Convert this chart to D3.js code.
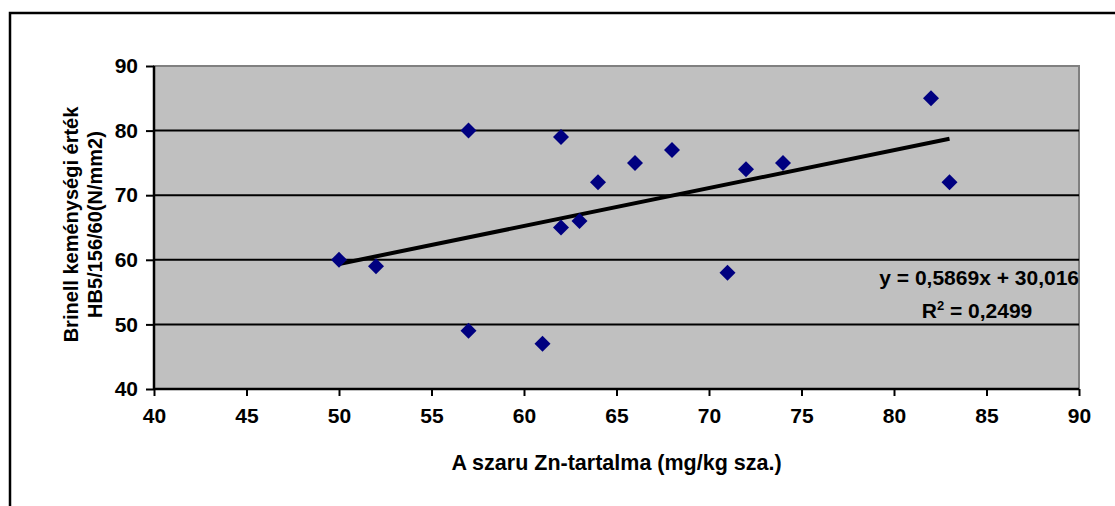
<!DOCTYPE html>
<html>
<head>
  <meta charset="utf-8" />
  <title>Zn-tartalom vs Brinell keménység</title>
  <script src="https://cdn.jsdelivr.net/npm/d3@7"></script>
  <style>
    body { margin: 0; background: #fff; }
    svg text { font-family: "Liberation Sans", Arial, sans-serif; font-weight: bold; fill: #000; }
  </style>
</head>
<body>
  <div id="chart"></div>
  <script>
    // data
    var znValues = [50, 52, 57, 57, 61, 62, 62, 63, 64, 66, 68, 71, 72, 74, 82, 83];
    var hbValues = [60, 59, 80, 49, 47, 79, 65, 66, 72, 75, 77, 58, 74, 75, 85, 72];
    var xTicks = [40, 45, 50, 55, 60, 65, 70, 75, 80, 85, 90];
    var yTicks = [40, 50, 60, 70, 80, 90];
    var trendSlope = 0.5869, trendIntercept = 30.016;
    var trendRange = [50, 83];

    var width = 1115, height = 506;
    var plotLeft = 154, plotRight = 1079, plotTop = 66, plotBottom = 389;
    var fontSize = 21;

    var svg = d3.select("#chart")
            .append("svg")
            .attr("width", width)
            .attr("height", height);

    // outer chart frame (cut off on the right and bottom)
    svg.append("path")
      .attr("d", "M10," + (height + 5) + "V13H" + (width + 5))
      .attr("fill", "none")
      .attr("stroke", "#000")
      .attr("stroke-width", 2.5);

    var x = d3.scaleLinear().domain([40, 90]).range([plotLeft, plotRight]);
    var y = d3.scaleLinear().domain([40, 90]).range([plotBottom, plotTop]);

    // plot area
    svg.append("rect")
      .attr("x", plotLeft).attr("y", plotTop)
      .attr("width", plotRight - plotLeft).attr("height", plotBottom - plotTop)
      .attr("fill", "#c0c0c0")
      .attr("stroke", "#808080")
      .attr("stroke-width", 2);

    // gridlines
    svg.append("g").selectAll("line")
      .data(yTicks.filter(function(d) { return d > 40 && d < 90; }))
      .enter().append("line")
      .attr("x1", plotLeft).attr("x2", plotRight)
      .attr("y1", function(d) { return y(d); })
      .attr("y2", function(d) { return y(d); })
      .attr("stroke", "#000")
      .attr("stroke-width", 2);

    // axes
    var xAxis = svg.append("g")
      .attr("transform", "translate(0," + plotBottom + ")")
      .call(d3.axisBottom(x).tickValues(xTicks).tickSize(7).tickPadding(12));
    var yAxis = svg.append("g")
      .attr("transform", "translate(" + plotLeft + ",0)")
      .call(d3.axisLeft(y).tickValues(yTicks).tickSize(8).tickPadding(8));

    [xAxis, yAxis].forEach(function(g) {
      g.select(".domain").attr("stroke", "#000").attr("stroke-width", 2.5);
      g.selectAll(".tick line").attr("stroke", "#000").attr("stroke-width", 2);
      g.selectAll(".tick text")
        .attr("font-size", fontSize)
        .attr("font-family", "Liberation Sans, Arial, sans-serif")
        .attr("font-weight", "bold")
        .attr("fill", "#000");
    });
    xAxis.select(".domain").attr("d", "M" + plotLeft + ",0H" + plotRight);
    yAxis.select(".domain").attr("d", "M0," + plotBottom + "V" + plotTop);

    // trendline
    svg.append("line")
      .attr("x1", x(trendRange[0]))
      .attr("y1", y(trendSlope * trendRange[0] + trendIntercept))
      .attr("x2", x(trendRange[1]))
      .attr("y2", y(trendSlope * trendRange[1] + trendIntercept))
      .attr("stroke", "#000")
      .attr("stroke-width", 4);

    // markers
    var points = znValues.map(function(v, i) { return { zn: v, hb: hbValues[i] }; });
    svg.append("g").selectAll("path")
      .data(points)
      .enter().append("path")
      .attr("d", "M0,-8L8,0L0,8L-8,0Z")
      .attr("transform", function(d) { return "translate(" + x(d.zn) + "," + y(d.hb) + ")"; })
      .attr("fill", "#000080");

    // equation
    svg.append("text")
      .attr("x", plotRight).attr("y", 285)
      .attr("text-anchor", "end")
      .attr("font-size", fontSize)
      .text("y = 0,5869x + 30,016");
    var r2 = svg.append("text")
      .attr("x", 977).attr("y", 318)
      .attr("text-anchor", "middle")
      .attr("font-size", fontSize);
    r2.append("tspan").text("R");
    r2.append("tspan").attr("dy", -8).attr("font-size", 13).text("2");
    r2.append("tspan").attr("dy", 8).text(" = 0,2499");

    // axis titles
    svg.append("text")
      .attr("x", (plotLeft + plotRight) / 2).attr("y", 470)
      .attr("text-anchor", "middle")
      .attr("font-size", fontSize + 0.5)
      .text("A szaru Zn-tartalma (mg/kg sza.)");

    var yTitle = svg.append("text")
      .attr("transform", "translate(78," + ((plotTop + plotBottom) / 2 - 3) + ") rotate(-90)")
      .attr("text-anchor", "middle")
      .attr("font-size", 20);
    yTitle.append("tspan").attr("x", 0).attr("dy", 0).text("Brinell keménységi érték");
    yTitle.append("tspan").attr("x", 0).attr("dy", 24).text("HB5/156/60(N/mm2)");
  </script>
</body>
</html>
